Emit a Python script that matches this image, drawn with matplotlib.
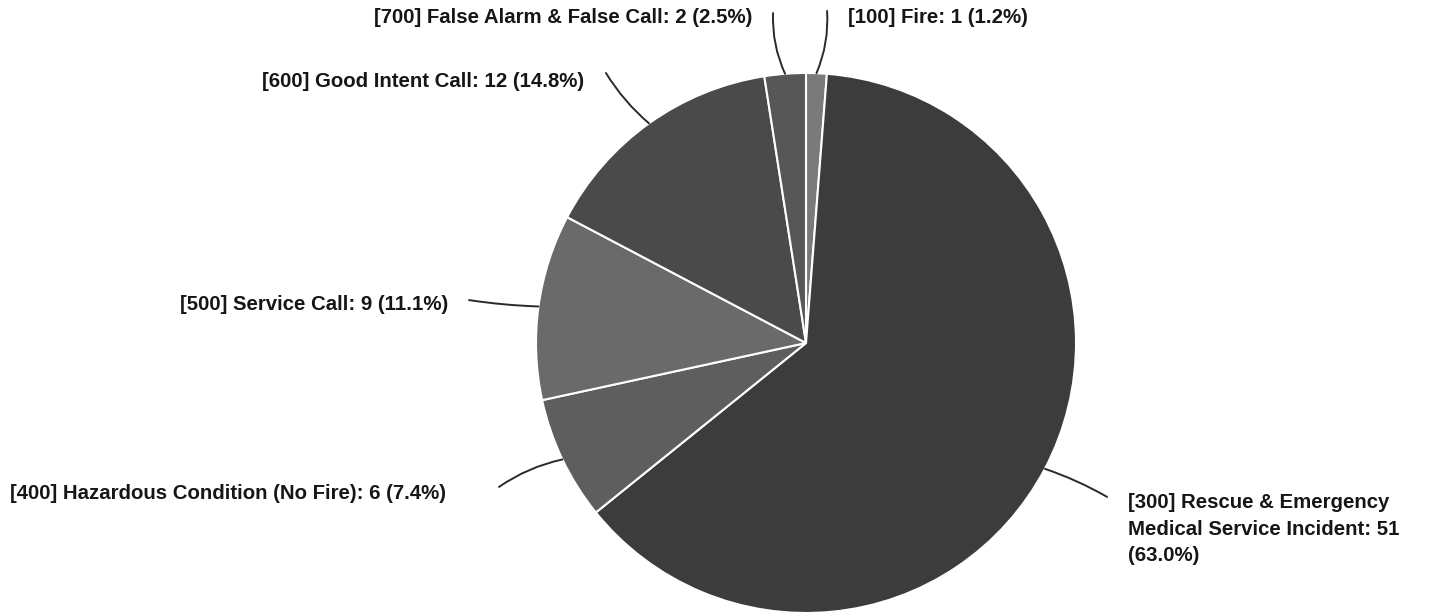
import numpy as np
import matplotlib.pyplot as plt

# incident types, clockwise from 12 o'clock
codes = ['100', '300', '400', '500', '600', '700']
names = ['Fire', 'Rescue & Emergency\nMedical Service Incident', 'Hazardous Condition (No Fire)',
         'Service Call', 'Good Intent Call', 'False Alarm & False Call']
counts = [1, 51, 6, 9, 12, 2]
percents = ['1.2%', '63.0%', '7.4%', '11.1%', '14.8%', '2.5%']

greys = ['#7a7a7a', '#3c3c3c', '#5e5e5e', '#6a6a6a', '#4a4a4a', '#575757']

# label layout in pie-radius units: (text x, text y, leader end x, leader end y, ha, curve)
layout = {
    '100': (0.156, 1.204, 0.078, 1.230, 'left', -0.12),
    '300': (1.193, -0.689, 1.115, -0.570, 'left', 0.05),
    '400': (-1.333, -0.559, -1.137, -0.533, 'right', -0.1),
    '500': (-1.326, 0.141, -1.248, 0.159, 'right', 0.03),
    '600': (-0.822, 0.970, -0.741, 1.000, 'right', 0.08),
    '700': (-0.200, 1.204, -0.122, 1.222, 'right', 0.12),
}

fig = plt.figure(figsize=(14.32, 6.16), dpi=100)
cx, cy, r = 806, 343, 270
ax = fig.add_axes([(cx - r) / 1432, (616 - cy - r) / 616, 2 * r / 1432, 2 * r / 616])

wedges, _ = ax.pie(counts, colors=greys, startangle=90, counterclock=False,
                   wedgeprops=dict(edgecolor='white', linewidth=1.5))
ax.set_xlim(-1, 1)
ax.set_ylim(-1, 1)
ax.set_aspect('equal')
ax.axis('off')

for w, code, name, n, p in zip(wedges, codes, names, counts, percents):
    ang = np.deg2rad((w.theta1 + w.theta2) / 2)
    x0, y0 = np.cos(ang), np.sin(ang)
    tx, ty, lx, ly, ha, rad = layout[code]
    ax.annotate('', xy=(x0, y0), xytext=(lx, ly), annotation_clip=False,
                arrowprops=dict(arrowstyle='-', color='#2a2a2a', lw=1.4,
                                shrinkA=0, shrinkB=0,
                                connectionstyle='arc3,rad=%s' % rad))
    if code == '300':
        label = '[%s] %s: %d\n(%s)' % (code, name, n, p)
        ax.text(tx, ty, label, ha=ha, va='center', fontsize=14.7, fontweight='bold',
                family='Liberation Sans', color='#161616', linespacing=1.48, clip_on=False)
    else:
        label = '[%s] %s: %d (%s)' % (code, name, n, p)
        ax.text(tx, ty, label, ha=ha, va='center', fontsize=14.7, fontweight='bold',
                family='Liberation Sans', color='#161616', clip_on=False)

fig.savefig('out.png', dpi=100, facecolor='white')
